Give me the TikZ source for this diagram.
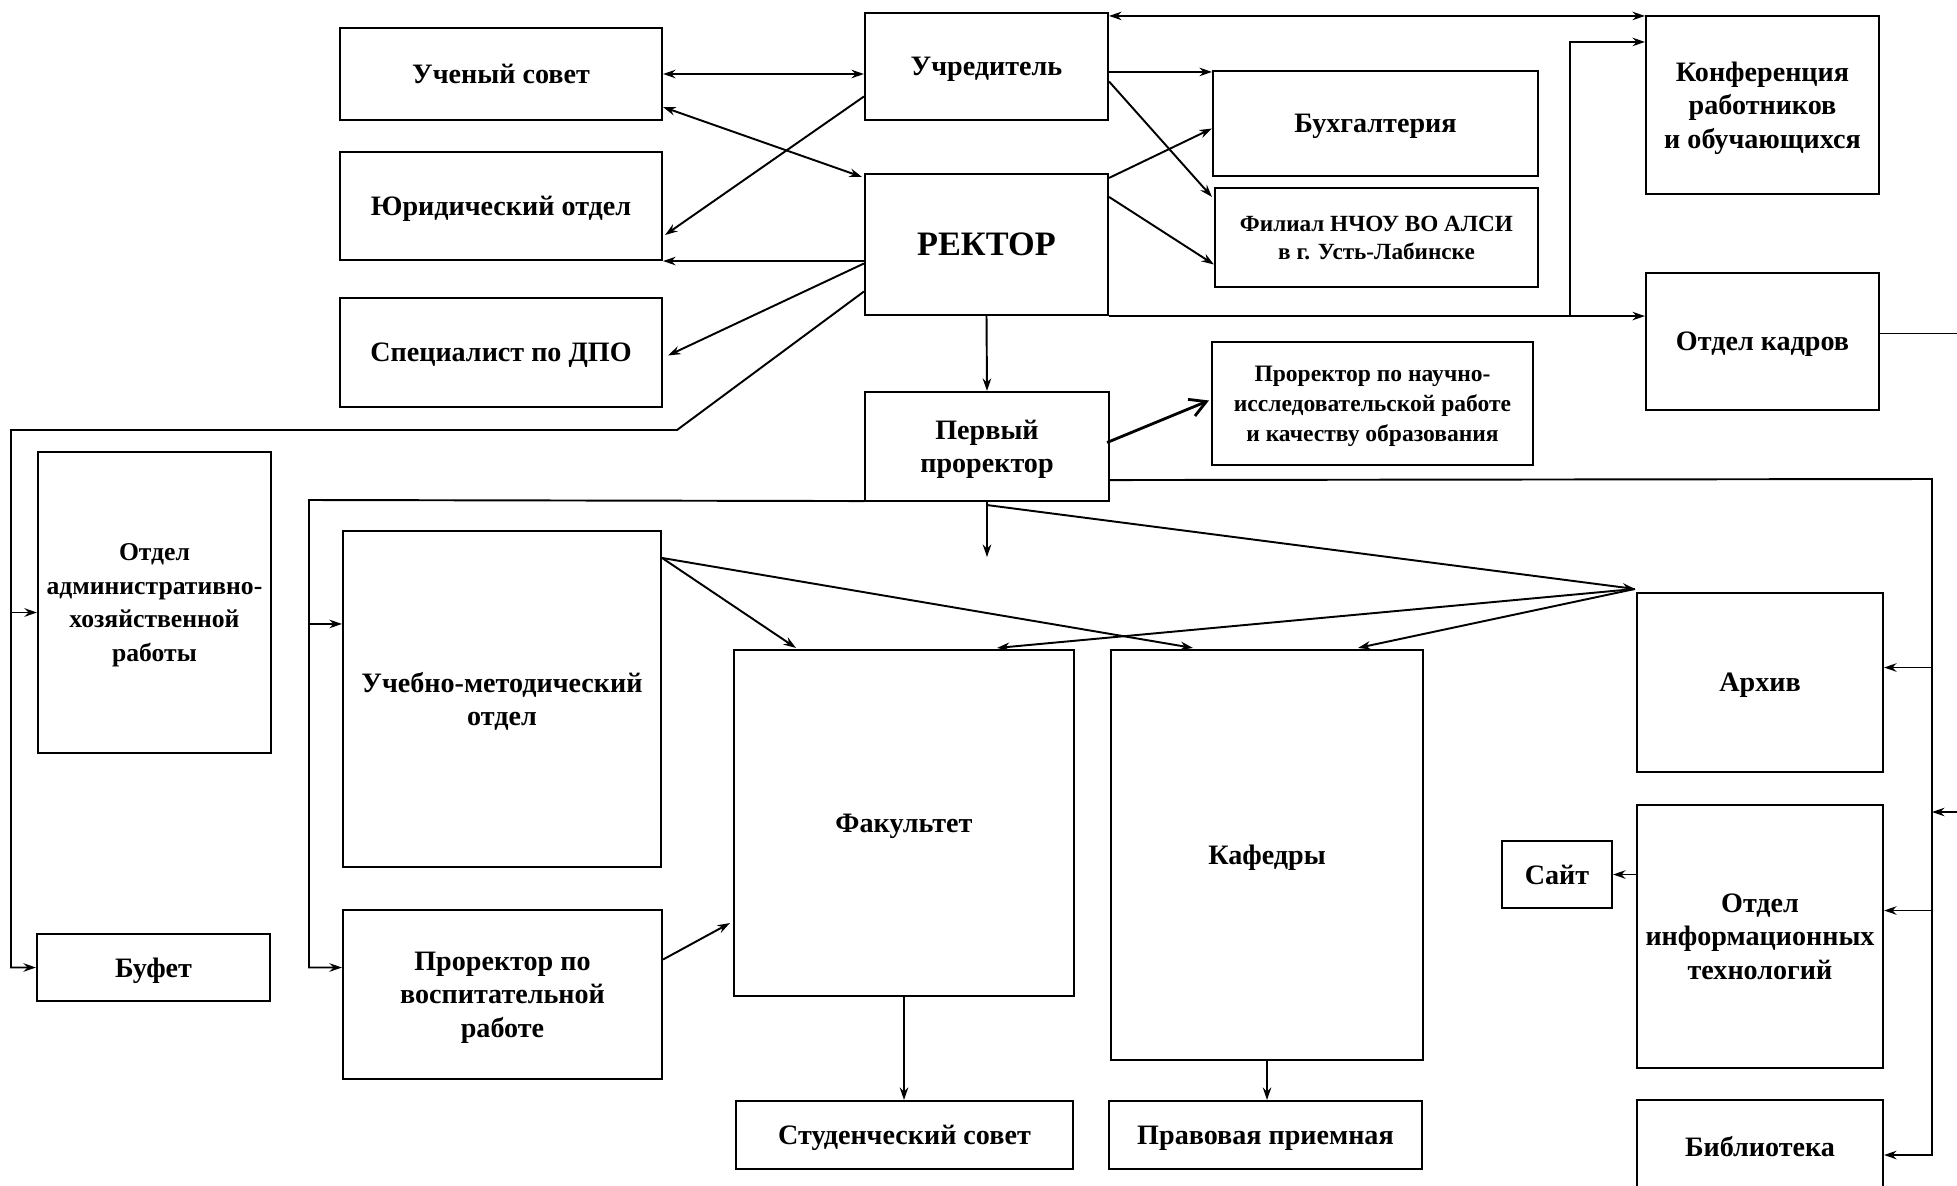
\documentclass[tikz,border=0pt]{standalone}
\usepackage{fontspec}
\setmainfont{Liberation Serif}
\usetikzlibrary{arrows.meta,calc}
\tikzset{
  caja/.style={draw, line width=1.2pt, align=center, inner sep=1pt, text depth=0pt,
    font=\fontsize{16}{19}\selectfont\bfseries},
  arr/.style={line width=1.1pt, -{Stealth[length=2.5mm,width=1.7mm]}},
  dbl/.style={line width=1.1pt, {Stealth[length=2.5mm,width=1.7mm]}-{Stealth[length=2.5mm,width=1.7mm]}},
  gruesa/.style={line width=1.6pt, -{Straight Barb[length=3.2mm,width=3.6mm]}}
}

\begin{document}
\begin{tikzpicture}[x=0.2mm,y=-0.2mm]
  \useasboundingbox (0,0) rectangle (1957,1185);
  \clip (0,0) rectangle (1957,1185);
  % cajas
  \node[caja, minimum width=64.4mm, minimum height=18.4mm] (uchsov) at (501,74) {Ученый совет};
  \node[caja, minimum width=64.4mm, minimum height=21.6mm] (yurid) at (501,206) {Юридический отдел};
  \node[caja, minimum width=64.4mm, minimum height=21.8mm] (dpo) at (501,352.5) {Специалист по ДПО};
  \node[caja, minimum width=48.6mm, minimum height=21.4mm] (uchred) at (986.5,66.5) {Учредитель};
  \node[caja, minimum width=48.6mm, minimum height=28.2mm,
        font=\fontsize{19.5}{23}\selectfont\bfseries] (rektor) at (986.5,244.5) {РЕКТОР};
  \node[caja, minimum width=48.8mm, minimum height=21.8mm] (perv) at (987,446.5) {Первый\\проректор};
  \node[caja, minimum width=64.2mm, minimum height=24.6mm,
        font=\fontsize{13.4}{17}\selectfont\bfseries] (nir) at (1372.5,403.5)
        {Проректор по научно-\\исследовательской работе\\и качеству образования};
  \node[caja, minimum width=65mm, minimum height=21mm] (buh) at (1375.5,123.5) {Бухгалтерия};
  \node[caja, minimum width=64.6mm, minimum height=19.8mm,
        font=\fontsize{13.2}{16}\selectfont\bfseries] (filial) at (1376.5,237.5)
        {Филиал НЧОУ ВО АЛСИ\\в г. Усть-Лабинске};
  \node[caja, minimum width=46.6mm, minimum height=35.6mm] (konf) at (1762.5,105) {Конференция\\работников\\и обучающихся};
  \node[caja, minimum width=46.6mm, minimum height=27.4mm] (kadry) at (1762.5,341.5) {Отдел кадров};
  \node[caja, minimum width=46.6mm, minimum height=60.2mm,
        font=\fontsize{14.6}{19}\selectfont\bfseries] (ahr) at (154.5,602.5) {Отдел\\административно-\\хозяйственной\\работы};
  \node[caja, minimum width=46.6mm, minimum height=13.4mm] (bufet) at (153.5,967.5) {Буфет};
  \node[caja, minimum width=63.6mm, minimum height=67.2mm] (umo) at (502,699) {Учебно-методический\\отдел};
  \node[caja, minimum width=63.8mm, minimum height=33.8mm] (vosp) at (502.5,994.5) {Проректор по\\воспитательной\\работе};
  \node[caja, minimum width=68mm, minimum height=69.2mm] (fak) at (904,823) {Факультет};
  \node[caja, minimum width=62.4mm, minimum height=82mm] (kaf) at (1267,855) {Кафедры};
  \node[caja, minimum width=67.4mm, minimum height=13.6mm] (stud) at (904.5,1135) {Студенческий совет};
  \node[caja, minimum width=62.6mm, minimum height=13.6mm] (prav) at (1265.5,1135) {Правовая приемная};
  \node[caja, minimum width=49.2mm, minimum height=35.8mm] (arhiv) at (1760,682.5) {Архив};
  \node[caja, minimum width=49.2mm, minimum height=52.6mm] (oit) at (1760,936.5) {Отдел\\информационных\\технологий};
  \node[caja, minimum width=22mm, minimum height=13.4mm] (sajt) at (1557,874.5) {Сайт};
  \node[caja, minimum width=49.2mm, minimum height=18.4mm] (bibl) at (1760,1146) {Библиотека};

  % puntos de paso
  \coordinate (lbend) at (677,430);
  \coordinate (lrail) at (11,430);
  \coordinate (ahrin) at ($(ahr.west)+(0,10)$);
  \coordinate (kbr)   at ($(rektor.south east)+(461,0)$);
  \coordinate (rrail) at (1932,479);
  \coordinate (arhin) at ($(arhiv.east)+(0,-15)$);
  \coordinate (oitin) at ($(oit.east)+(0,-26)$);
  \coordinate (bibin) at ($(bibl.east)+(0,9)$);
  \coordinate (kout)  at (1975,812);
  \coordinate (mrail) at (309,500);
  \coordinate (umoin) at ($(umo.north west)+(0,94)$);
  \coordinate (pdown) at ($(perv.south)+(0,55)$);
  \coordinate (hub)   at ($(arhiv.north west)+(-1,-3)$);

  % arriba
  \path [dbl] (uchsov.east) edge (uchsov.east -| uchred.west);
  \path [dbl] ($(uchsov.south east)+(0,-14)$) edge ($(rektor.north west)+(-2,4)$);
  \path [arr] ($(uchred.west)+(0,30)$) edge ($(yurid.east)+(2,29)$);
  \path [arr] (rektor.west |- yurid.south east) edge (yurid.south east);
  \path [arr] ($(rektor.west)+(0,19)$) edge ($(dpo.east)+(5,3)$);
  \draw [arr] ($(rektor.west)+(0,47)$) -- (lbend) -- (lrail) |- (bufet.west);
  \draw [arr] (lrail |- ahrin) -- (ahrin);
  \path [dbl] ($(uchred.north east |- konf.north west)+(0,1)$) edge ($(konf.north west)+(0,1)$);
  \path [arr] ($(uchred.east |- buh.north west)+(0,2)$) edge ($(buh.north west)+(0,2)$);
  \path [arr] ($(uchred.east)+(0,15)$) edge ($(filial.north west)+(-2,10)$);
  \path [arr] ($(rektor.north east)+(0,5)$) edge ($(buh.west)+(0,5)$);
  \path [arr] ($(rektor.north east)+(0,24)$) edge ($(filial.west)+(0,27)$);
  \draw [arr] (rektor.south east) -- (rektor.south east -| kadry.west);
  \draw [arr] (kbr) |- ($(konf.north west)+(0,27)$);
  \path [arr] (rektor.south) edge (perv.north);
  \path [gruesa] ($(perv.east)+(-3,-4)$) edge ($(nir.west)+(-2,-3)$);

  % derecha
  \draw [arr] ($(perv.south east)+(0,-22)$) -- (rrail) |- (bibin);
  \draw [arr] (rrail |- arhin) -- (arhin);
  \draw [arr] (rrail |- oitin) -- (oitin);
  \draw [arr] ($(kadry.east)+(0,-8)$) -| (kout) -- (rrail |- kout);
  \path [arr] (oit.west |- sajt.east) edge (sajt.east);

  % centro
  \draw [arr] ($(perv.south west)+(0,-1)$) -- (mrail) |- ($(vosp.west)+(0,-27)$);
  \draw [arr] (mrail |- umoin) -- (umoin);
  \path [arr] (perv.south) edge (pdown);
  \path [arr] ($(perv.south)+(0,3)$) edge (hub);
  \path [arr] (hub) edge ($(fak.north)+(93,-1)$);
  \path [arr] (hub) edge ($(kaf.north)+(91,-1)$);
  \path [arr] ($(umo.north east)+(0,28)$) edge ($(fak.north west)+(63,-1)$);
  \path [arr] ($(umo.north east)+(0,28)$) edge ($(kaf.north west)+(83,-1)$);
  \path [arr] ($(vosp.east)+(0,-35)$) edge ($(fak.south west)+(-3,-74)$);
  \path [arr] (fak.south) edge (fak.south |- stud.north);
  \path [arr] (kaf.south) edge (kaf.south |- prav.north);
\end{tikzpicture}
\end{document}
